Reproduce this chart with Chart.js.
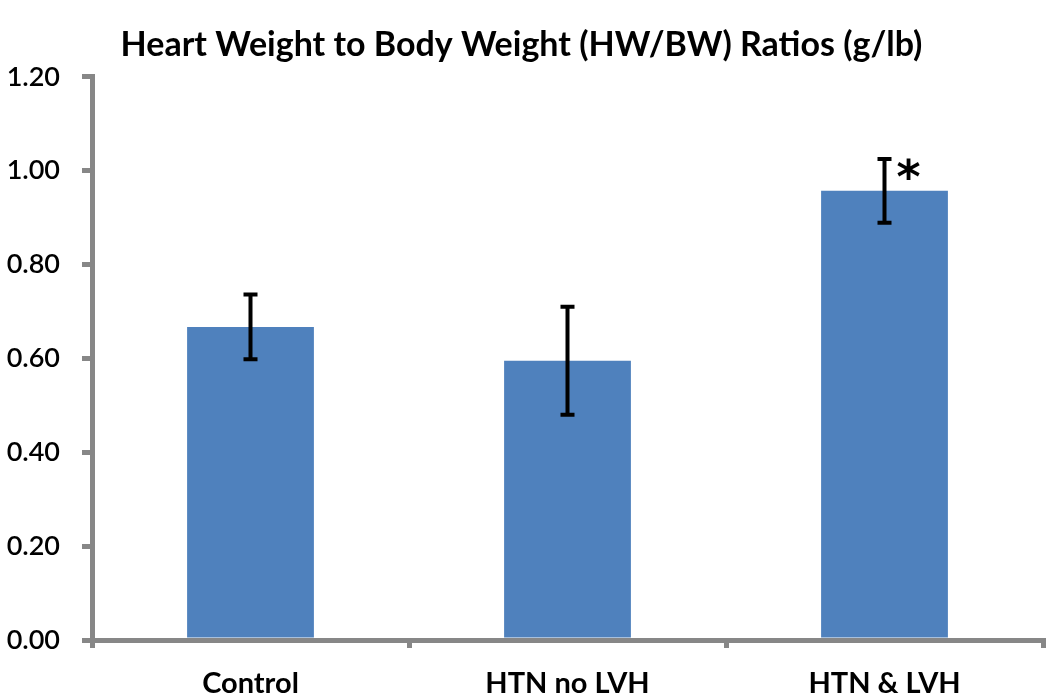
<!DOCTYPE html>
<html>
<head>
<meta charset="utf-8">
<script src="https://cdn.jsdelivr.net/npm/chart.js@4"></script>
<style>
  html, body { margin: 0; padding: 0; background: #fff; }
  #wrap { width: 1050px; height: 697px; }
</style>
</head>
<body>
<div id="wrap"><canvas id="chart" width="1050" height="697"></canvas></div>
<script>
// data
const categories = ['Control', 'HTN no LVH', 'HTN & LVH'];
const ratios = [0.667, 0.595, 0.957];
const errors = [0.069, 0.115, 0.068];
const marks = ['', '', '*'];
const yTicks = [0, 0.2, 0.4, 0.6, 0.8, 1.0, 1.2];

const FONT = "Lato, 'Open Sans', sans-serif";
const AXIS_GRAY = '#878787';

// error bars + significance star
const errorBarPlugin = {
    id: 'errorBars',
    afterDatasetsDraw(chart) {
        const ctx = chart.ctx;
        const y = chart.scales.y;
        const meta = chart.getDatasetMeta(0);
        ctx.save();
        ctx.strokeStyle = '#000';
        ctx.lineWidth = 4;
        meta.data.forEach((bar, i) => {
            const x = bar.x;
            const top = y.getPixelForValue(ratios[i] + errors[i]);
            const bot = y.getPixelForValue(ratios[i] - errors[i]);
            ctx.beginPath();
            ctx.moveTo(x, top); ctx.lineTo(x, bot);
            ctx.moveTo(x - 7, top); ctx.lineTo(x + 7, top);
            ctx.moveTo(x - 7, bot); ctx.lineTo(x + 7, bot);
            ctx.stroke();
            if (marks[i]) {
                ctx.fillStyle = '#000';
                ctx.font = "bold 46px 'DejaVu Sans', sans-serif";
                ctx.textAlign = 'center';
                ctx.textBaseline = 'alphabetic';
                ctx.fillText(marks[i], x + 24, top + 34);
            }
        });
        ctx.restore();
    }
};

new Chart(document.getElementById('chart'), {
    type: 'bar',
    data: {
        labels: categories,
        datasets: [{
            data: ratios,
            backgroundColor: '#4F81BD',
            borderWidth: 0,
            categoryPercentage: 1.0,
            barPercentage: 0.4
        }]
    },
    options: {
        responsive: false,
        animation: false,
        layout: { padding: { left: 0, right: 7, top: 0, bottom: 0 } },
        plugins: {
            legend: { display: false },
            tooltip: { enabled: false },
            title: {
                display: true,
                text: 'Heart Weight to Body Weight (HW/BW) Ratios (g/lb)',
                color: '#000',
                font: { family: FONT, size: 34, weight: 'bold' },
                padding: { top: 25, bottom: 11 }
            }
        },
        scales: {
            x: {
                grid: {
                    display: true,
                    drawOnChartArea: false,
                    drawTicks: true,
                    tickLength: 8,
                    color: AXIS_GRAY,
                    lineWidth: 5
                },
                border: { display: true, color: AXIS_GRAY, width: 5 },
                ticks: {
                    color: '#000',
                    padding: 18,
                    font: { family: FONT, size: 29, weight: 'bold' }
                },
                afterFit(scale) { scale.height = 57; }
            },
            y: {
                min: 0,
                max: 1.2,
                afterBuildTicks(scale) { scale.ticks = yTicks.map(v => ({ value: v })); },
                grid: {
                    display: true,
                    drawOnChartArea: false,
                    drawTicks: true,
                    tickLength: 10,
                    color: AXIS_GRAY,
                    lineWidth: 5
                },
                border: { display: true, color: AXIS_GRAY, width: 5 },
                ticks: {
                    color: '#000',
                    padding: 22,
                    font: { family: FONT, size: 27, weight: '600' },
                    callback: v => Number(v).toFixed(2)
                },
                afterFit(scale) { scale.width = 92; }
            }
        }
    },
    plugins: [errorBarPlugin]
});
</script>
</body>
</html>
